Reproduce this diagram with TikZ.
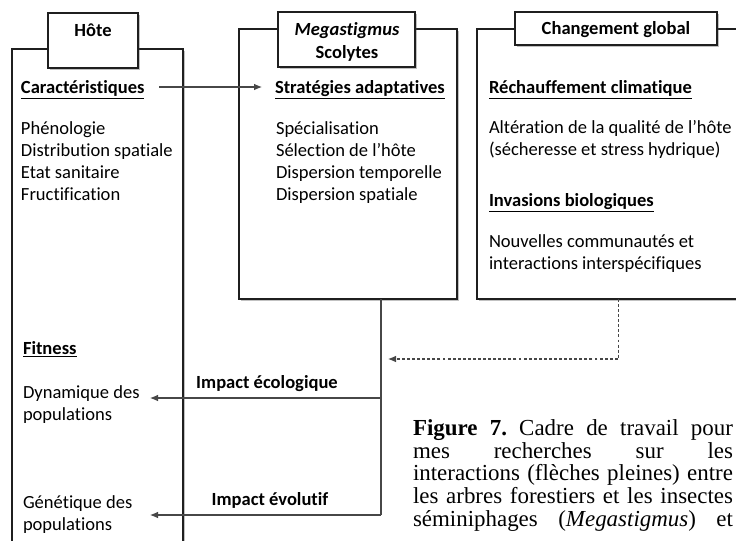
\documentclass[tikz,border=0pt]{standalone}
\usepackage{fontspec}
\setmainfont{Carlito}[Ligatures=NoCommon]
\newfontfamily\capfont{Liberation Serif}
\usetikzlibrary{arrows.meta,shadows}

\tikzset{
  frame/.style={draw=black!88, line width=1.05pt, fill=white,
    drop shadow={shadow xshift=1.4pt, shadow yshift=-1.4pt, opacity=0.35, fill=black!70},
    inner sep=0pt, outer sep=0pt},
  txt/.style={inner sep=0pt, outer sep=0pt, anchor=base west, text height=12pt, text depth=3pt},
  lst/.style={inner sep=0pt, outer sep=0pt, anchor=base west, align=left,
    font=\fontsize{13.9}{16.5}\selectfont},
  link/.style={draw=black!72, line width=0.8pt},
  tip/.style={-{Latex[length=6pt,width=5pt]}},
  dotted link/.style={link, dash pattern=on 2.2pt off 1.6pt},
  hd/.style={inner sep=0pt, outer sep=0pt, anchor=base, font=\fontsize{13.9}{17.25}\selectfont\bfseries, align=center},
}

\begin{document}
\begin{tikzpicture}[x=0.75pt, y=-0.75pt, font=\fontsize{13.9}{16.5}\selectfont]
  \useasboundingbox (0,0) rectangle (736,540);
  \clip (0,0) rectangle (736,540);

  % main panels
  \node[frame, anchor=north west, minimum width=128.25pt, minimum height=383.25pt] (host) at (12,49) {};
  \node[frame, anchor=north west, minimum width=163.5pt, minimum height=202.5pt] (mid) at (239,29) {};
  \node[frame, anchor=north west, minimum width=212.25pt, minimum height=202.5pt] (glob) at (477,29) {};

  % panel titles
  \node[frame, minimum width=67.5pt, minimum height=41.25pt] (hosthead) at (93,40.5) {};
  \node[frame, minimum width=102.75pt, minimum height=41.25pt] (midhead) at (346.5,39.5) {};
  \node[frame, minimum width=151.5pt, minimum height=24.75pt] (globhead) at (616,28.5) {};
  \node[hd] (hosttitle) at (93,36) {Hôte};
  \node[hd] (midtitle) at (347,58) {\textit{Megastigmus}\\Scolytes};
  \node[hd] (globtitle) at (616,34) {Changement global};

  % host panel (multi-line nodes are placed by the baseline of their last line)
  \node[txt, font=\fontsize{13.9}{16.5}\selectfont\bfseries] (carac) at (21,93) {\underline{Caractéristiques}};
  \node[lst] (caraclist) at (21,200) {Phénologie\\Distribution spatiale\\Etat sanitaire\\Fructification};
  \node[txt, font=\fontsize{13.9}{16.5}\selectfont\bfseries] (fit) at (23,354) {\underline{Fitness}};
  \node[lst] (dyn) at (23,420) {Dynamique des\\populations};
  \node[lst] (gen) at (23,530) {Génétique des\\populations};

  % insect panel
  \node[txt, font=\fontsize{13.9}{16.5}\selectfont\bfseries] (strat) at (275,93) {\underline{Stratégies adaptatives}};
  \node[lst] (stratlist) at (276,200) {Spécialisation\\Sélection de l’hôte\\Dispersion temporelle\\Dispersion spatiale};

  % global change panel
  \node[txt, font=\fontsize{13.9}{16.5}\selectfont\bfseries] (warm) at (489,93) {\underline{Réchauffement climatique}};
  \node[lst] (warmlist) at (489,155) {Altération de la qualité de l’hôte\\(sécheresse et stress hydrique)};
  \node[txt, font=\fontsize{13.9}{16.5}\selectfont\bfseries] (inv) at (489,206) {\underline{Invasions biologiques}};
  \node[lst] (invlist) at (489,269) {Nouvelles communautés et\\interactions interspécifiques};

  % impact labels
  \node[hd] (ecol) at (267,388) {Impact écologique};
  \node[hd] (evol) at (270,505) {Impact évolutif};

  % connectors
  \coordinate (split) at (381,398);
  \coordinate (foot) at (381,515);
  \coordinate (dynend) at (150,398);
  \coordinate (genend) at (150,515);
  \coordinate (glend) at (388,359);

  \draw[link, tip] ([xshift=11.25pt]carac.east |- 0,87) -- ([xshift=-9.75pt]strat.west |- 0,87);
  \draw[link] (mid.south -| split) -- (foot);
  \draw[link, tip] (split) -- (dynend);
  \draw[link, tip] (foot) -- (genend);
  \draw[dotted link, tip] (glob.south) |- (glend);

  % caption
  \node[inner sep=0pt, outer sep=0pt, anchor=north west, text width=240pt, align=justify,
        font=\capfont\fontsize{17.2}{16.9}\selectfont] (caption) at (413,420)
    {\frenchspacing\parfillskip=0pt \textbf{Figure 7.} Cadre de travail pour\linebreak
     mes recherches sur les\linebreak
     interactions (flèches pleines) entre\linebreak
     les arbres forestiers et les insectes\linebreak
     séminiphages (\textit{Megastigmus}) et\par};
\end{tikzpicture}
\end{document}
